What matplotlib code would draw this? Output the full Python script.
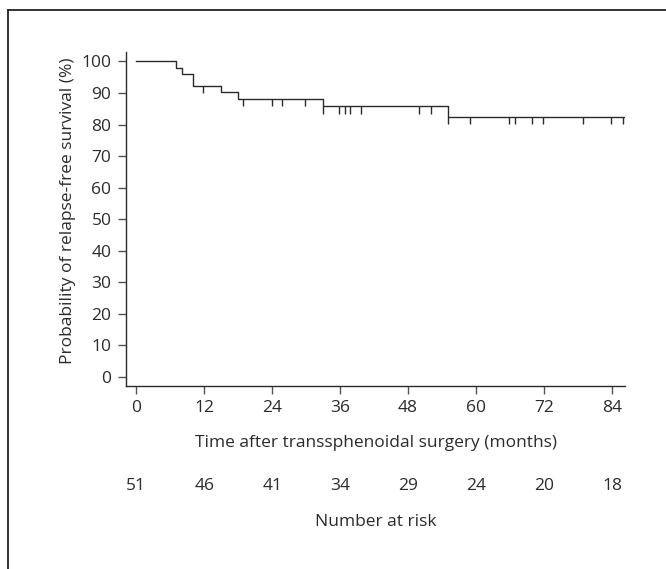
import numpy as np
import matplotlib
matplotlib.use("Agg")
import matplotlib.pyplot as plt
from matplotlib.lines import Line2D

# Kaplan-Meier steps
event_times = [0, 7, 8, 10, 15, 18, 33, 55]
survival = [100, 98.0, 96.1, 92.2, 90.2, 88.2, 85.8, 82.4]
end_time = 86.2
# censored observations (small vertical marks)
censor_times = [11.8, 18.8, 23.9, 25.8, 29.8, 33, 35.8, 36.8, 37.8, 39.7,
                49.9, 52.0, 55, 59, 65.8, 66.9, 69.8, 71.9, 78.8, 83.8, 85.9]
# number at risk row
risk_months = [0, 12, 24, 36, 48, 60, 72, 84]
risk_counts = [51, 46, 41, 34, 29, 24, 20, 18]

plt.rcParams['font.family'] = ['Open Sans', 'DejaVu Sans']
fs = 12.5
col = '#2b2b2b'

fig = plt.figure(figsize=(6.66, 5.69), dpi=100)
ax = fig.add_axes([126/666, 1-386/569, 499/666, 334/569])

# step curve
xs = list(event_times) + [end_time]
ys = list(survival) + [survival[-1]]
ax.step(xs, ys, where='post', color=col, lw=1.0)

# censor marks hang below the curve
levels = [survival[np.searchsorted(event_times, t, side='right') - 1] for t in censor_times]
ax.vlines(censor_times, np.array(levels) - 2.3, levels, color=col, lw=1.0)

ax.set_xlim(-1.8, 86.3)
ax.set_ylim(-2.9, 103)
ax.set_xticks(risk_months)
ax.set_yticks(range(0, 101, 10))
for s in ['top', 'right']:
    ax.spines[s].set_visible(False)
for s in ['left', 'bottom']:
    ax.spines[s].set_color(col)
    ax.spines[s].set_linewidth(1.0)
ax.tick_params(axis='both', length=6, width=1.0, color='#555555', labelsize=fs, labelcolor=col)
ax.tick_params(axis='x', pad=4)
ax.tick_params(axis='y', pad=4.5)

ax.set_xlabel('Time after transsphenoidal surgery (months)', fontsize=fs, color=col, va='center')
ax.xaxis.set_label_coords(0.5, (386-443)/334)
ax.set_ylabel('Probability of relapse-free survival (%)', fontsize=fs, color=col, va='center')
ax.yaxis.set_label_coords((68-126)/499, (386-210.5)/334)

trans = ax.get_xaxis_transform()
for m, n in zip(risk_months, risk_counts):
    ax.text(m, (386-486)/334, str(n), transform=trans, ha='center', va='center', fontsize=fs, color=col)
ax.text(0.5, (386-521.7)/334, 'Number at risk', transform=ax.transAxes,
        ha='center', va='center', fontsize=fs, color=col)

# outer frame (only top and left edges are visible)
fig.add_artist(Line2D([8/666, 8/666], [0, 1-10/569], color='#222222', lw=1.3))
fig.add_artist(Line2D([8/666, 1], [1-10/569, 1-10/569], color='#222222', lw=1.3))

fig.savefig('out.png', dpi=100)
